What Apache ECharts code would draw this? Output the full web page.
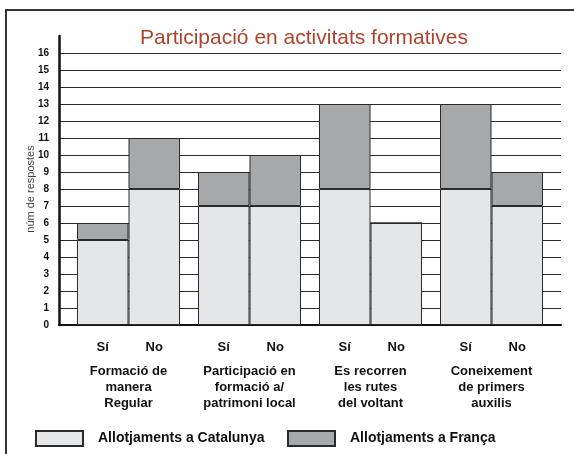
<!DOCTYPE html>
<html>
<head>
    <meta charset="utf-8">
    <title>Participació en activitats formatives</title>
    <script src="https://cdn.jsdelivr.net/npm/echarts@6/dist/echarts.min.js"></script>
    <style>
        body { margin: 0; background: #fff; }
        #frame { position: absolute; left: 5px; top: 9px; width: 620px; height: 500px;
                 border-left: 2px solid #333; border-top: 2px solid #333; }
        #main { position: absolute; left: 0; top: 0; width: 574px; height: 454px; }
    </style>
</head>
<body>
    <div id="frame"></div>
    <div id="main"></div>
    <script type="text/javascript">
        // categories and values
        var groups = ['Formació de\nmanera\nRegular', 'Participació en\nformació a/\npatrimoni local',
                      'Es recorren\nles rutes\ndel voltant', 'Coneixement\nde primers\nauxilis'];
        var answers = ['Sí', 'No'];
        var catalunyaSi = [5, 7, 8, 8];
        var francaSi = [1, 2, 5, 5];
        var catalunyaNo = [8, 7, 6, 7];
        var francaNo = [3, 3, 0, 2];
        var yMin = 0, yMax = 16, yStep = 1;

        var nameCat = 'Allotjaments a Catalunya';
        var nameFra = 'Allotjaments a França';
        var lightGrey = '#e5e6e8';
        var darkGrey = '#a7a8aa';
        var font = 'Liberation Sans, Arial, sans-serif';

        var chart = echarts.init(document.getElementById('main'));

        function barSeries(name, stack, data, color) {
            return {
                name: name,
                type: 'bar',
                xAxisIndex: 1,
                yAxisIndex: 1,
                stack: stack,
                barWidth: 51.5,
                barGap: '0%',
                data: data,
                itemStyle: { color: color, borderColor: '#2a2a2a', borderWidth: 1 },
                emphasis: { disabled: true }
            };
        }

        var legendCommon = {
            top: 425,
            icon: 'rect',
            itemWidth: 47,
            itemHeight: 15,
            selectedMode: false,
            textStyle: { fontFamily: font, fontWeight: 'bold', fontSize: 14, color: '#111', padding: [0, 0, 0, 10] }
        };

        var option = {
            animation: false,
            title: {
                text: 'Participació en activitats formatives',
                left: 135,
                top: 23,
                textStyle: { fontFamily: font, fontWeight: 'normal', fontSize: 21, color: '#b0432b' }
            },
            legend: [
                Object.assign({ left: 30, data: [nameCat] }, legendCommon),
                Object.assign({ left: 282, data: [nameFra] }, legendCommon)
            ],
            grid: [
                { left: 59, right: 13, top: 53, bottom: 129 },
                { left: 68, right: 22, top: 36, bottom: 129 }
            ],
            xAxis: [
                {
                    type: 'category',
                    gridIndex: 0,
                    data: groups,
                    axisLine: { lineStyle: { color: '#111', width: 2 } },
                    axisTick: { show: false },
                    axisLabel: { show: false }
                },
                {
                    type: 'category',
                    gridIndex: 1,
                    data: groups,
                    axisLine: { show: false },
                    axisTick: { show: false },
                    axisLabel: {
                        interval: 0,
                        margin: 14,
                        formatter: function (v) {
                            var lines = v.split('\n').map(function (l) { return '{c|' + l + '}'; });
                            return '{s|' + answers[0] + '}{s|' + answers[1] + '}\n{g| }\n' + lines.join('\n');
                        },
                        rich: {
                            s: { width: 51.5, align: 'center', lineHeight: 16, fontFamily: font, fontWeight: 'bold', fontSize: 13, color: '#111' },
                            g: { lineHeight: 8, fontSize: 4 },
                            c: { lineHeight: 16, align: 'center', fontFamily: font, fontWeight: 'bold', fontSize: 13, color: '#111' }
                        }
                    }
                }
            ],
            yAxis: [
                {
                    type: 'value',
                    gridIndex: 0,
                    min: yMin,
                    max: yMax,
                    interval: yStep,
                    name: 'núm de respostes',
                    nameLocation: 'middle',
                    nameRotate: 90,
                    nameGap: 23,
                    nameMoveOverlap: false,
                    nameTextStyle: { fontFamily: font, fontSize: 11, color: '#444' },
                    axisLine: { show: false },
                    axisTick: { show: false },
                    axisLabel: { margin: 10, fontFamily: font, fontWeight: 'bold', fontSize: 10, color: '#111' },
                    splitLine: { lineStyle: { color: '#2a2a2a', width: 1 } }
                },
                {
                    type: 'value',
                    gridIndex: 1,
                    min: yMin,
                    max: yMax + yStep,
                    interval: yStep,
                    offset: 9,
                    axisLine: { show: true, lineStyle: { color: '#111', width: 2.5 } },
                    axisTick: { show: false },
                    axisLabel: { show: false },
                    splitLine: { show: false }
                }
            ],
            series: [
                barSeries(nameCat, 'si', catalunyaSi, lightGrey),
                barSeries(nameFra, 'si', francaSi, darkGrey),
                barSeries(nameCat, 'no', catalunyaNo, lightGrey),
                barSeries(nameFra, 'no', francaNo, darkGrey)
            ]
        };

        chart.setOption(option);
    </script>
</body>
</html>
